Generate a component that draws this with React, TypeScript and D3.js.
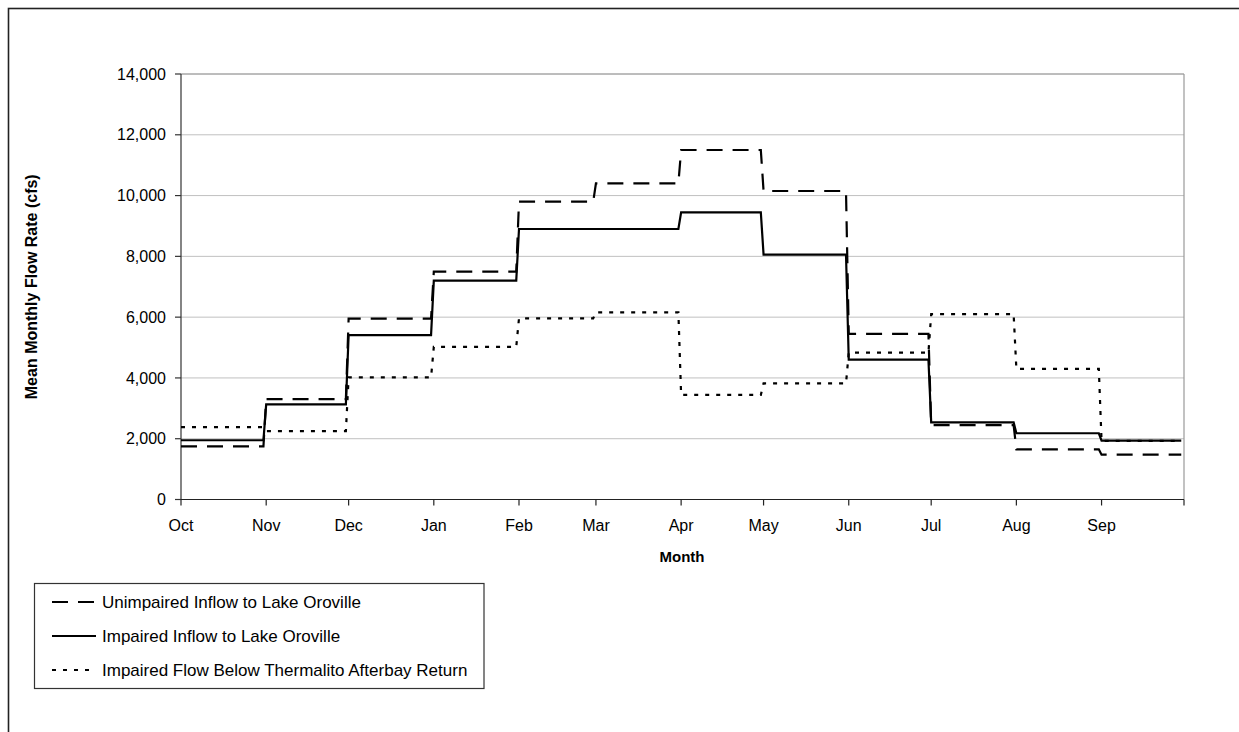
import React from "react";
import * as d3 from "d3";

const months = ["Oct", "Nov", "Dec", "Jan", "Feb", "Mar", "Apr", "May", "Jun", "Jul", "Aug", "Sep"];
const unimpairedInflow = [1750, 3300, 5950, 7500, 9800, 10400, 11500, 10150, 5450, 2450, 1650, 1475];
const impairedInflow = [1950, 3130, 5410, 7200, 8900, 8900, 9450, 8060, 4600, 2540, 2180, 1940];
const belowThermalito = [2380, 2250, 4020, 5020, 5960, 6160, 3440, 3820, 4830, 6100, 4300, 1930];
const yTicks = [0, 2000, 4000, 6000, 8000, 10000, 12000, 14000];

const seriesNames = [
  "Unimpaired Inflow to Lake Oroville",
  "Impaired Inflow to Lake Oroville",
  "Impaired Flow Below Thermalito Afterbay Return",
];
const seriesValues = [unimpairedInflow, impairedInflow, belowThermalito];
const seriesDash = ["16,10", null, "4,7"];

const W = 1239;
const H = 732;
const M = { left: 181, right: 1184, top: 74, bottom: 499.5 };
const FONT = "'Liberation Sans', Arial, sans-serif";

// month start dates for a (non-leap) water year
const monthStart = (i: number) => new Date(Date.UTC(2001, 9 + i, 1));
const monthLast = (i: number) => new Date(Date.UTC(2001, 10 + i, 0));

export default function App() {
  const x = d3.scaleUtc().domain([monthStart(0), monthStart(12)]).range([M.left, M.right]);
  const y = d3.scaleLinear().domain([0, 14000]).range([M.bottom, M.top]);

  const line = d3
    .line<[Date, number]>()
    .x((d) => x(d[0]))
    .y((d) => y(d[1]));

  const pathFor = (vals: number[]) => {
    const pts: [Date, number][] = [];
    vals.forEach((v, i) => {
      pts.push([monthStart(i), v]);
      pts.push([monthLast(i), v]);
    });
    return line(pts) || "";
  };

  const tickDates = d3.range(13).map(monthStart);
  const fmt = d3.format(",");

  const legend = { x: 34.5, y: 583.5, w: 449.5, h: 105, rowY: [602, 636, 670] };

  return (
    <svg
      width={W}
      height={H}
      style={{ position: "absolute", left: 0, top: 0, background: "#fff" }}
      fontFamily={FONT}
    >
      <rect x={0} y={0} width={W} height={H} fill="#fff" />
      {/* outer chart border (extends past window) */}
      <rect x={8.5} y={8.5} width={W + 50} height={H + 50} fill="none" stroke="#222" strokeWidth={1.6} />

      {/* gridlines */}
      {yTicks.map((t) => (
        <line key={"g" + t} x1={M.left} x2={M.right} y1={y(t)} y2={y(t)} stroke="#c0c0c0" strokeWidth={1} />
      ))}
      {/* plot area border */}
      <line x1={M.right} x2={M.right} y1={M.top} y2={M.bottom} stroke="#999" strokeWidth={1.2} />
      <line x1={M.left} x2={M.right} y1={M.top} y2={M.top} stroke="#999" strokeWidth={1.2} />

      {/* axes */}
      <line x1={M.left} x2={M.left} y1={M.top} y2={M.bottom} stroke="#333" strokeWidth={1.2} />
      <line x1={M.left} x2={M.right} y1={M.bottom} y2={M.bottom} stroke="#222" strokeWidth={1.2} />
      {yTicks.map((t) => (
        <g key={"yt" + t}>
          <line x1={M.left - 6} x2={M.left} y1={y(t)} y2={y(t)} stroke="#333" strokeWidth={1.2} />
          <text x={M.left - 15} y={y(t)} dy="0.35em" textAnchor="end" fontSize={16} fill="#000">
            {fmt(t)}
          </text>
        </g>
      ))}
      {tickDates.map((d, i) => (
        <g key={"xt" + i}>
          <line x1={x(d)} x2={x(d)} y1={M.bottom} y2={M.bottom + 6} stroke="#222" strokeWidth={1.2} />
          {i < 12 && (
            <text x={x(d)} y={M.bottom + 31} textAnchor="middle" fontSize={16} fill="#000">
              {months[i]}
            </text>
          )}
        </g>
      ))}

      {/* axis titles */}
      <text x={682} y={562} textAnchor="middle" fontSize={15} fontWeight="bold" fill="#000">
        Month
      </text>
      <text
        transform={`translate(37, ${(M.top + M.bottom) / 2}) rotate(-90)`}
        textAnchor="middle"
        fontSize={16}
        fontWeight="bold"
        fill="#000"
      >
        Mean Monthly Flow Rate (cfs)
      </text>

      {/* series */}
      {seriesValues.map((vals, i) => (
        <path
          key={"s" + i}
          d={pathFor(vals)}
          fill="none"
          stroke="#000"
          strokeWidth={2.2}
          strokeDasharray={seriesDash[i] || undefined}
          strokeLinejoin="miter"
        />
      ))}

      {/* legend */}
      <rect x={legend.x} y={legend.y} width={legend.w} height={legend.h} fill="#fff" stroke="#333" strokeWidth={1.2} />
      {seriesNames.map((name, i) => (
        <g key={"l" + i}>
          <line
            x1={52}
            x2={96}
            y1={legend.rowY[i]}
            y2={legend.rowY[i]}
            stroke="#000"
            strokeWidth={2.2}
            strokeDasharray={seriesDash[i] || undefined}
          />
          <text x={102} y={legend.rowY[i]} dy="0.35em" fontSize={17} fill="#000">
            {name}
          </text>
        </g>
      ))}
    </svg>
  );
}
